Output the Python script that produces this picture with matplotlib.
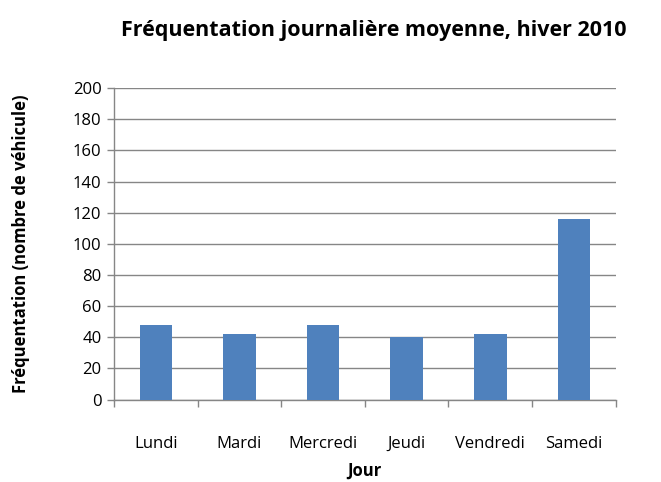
import matplotlib.pyplot as plt

plt.rcParams["font.family"] = ["Open Sans", "DejaVu Sans"]

jours = ["Lundi", "Mardi", "Mercredi", "Jeudi", "Vendredi", "Samedi"]
frequentation = [48, 42, 48, 40, 42, 116]

fig = plt.figure(figsize=(6.61, 4.82), dpi=100)
ax = fig.add_axes([0.1725, 0.171, 0.759, 0.646])

x = range(len(jours))
ax.bar(x, frequentation, width=0.39, color="#4F81BD", zorder=3)

ax.set_xlim(-0.5, len(jours) - 0.5)
ax.set_ylim(0, 200)
ax.set_yticks(range(0, 201, 20))
ax.set_xticks(list(x))
ax.set_xticklabels(jours, fontsize=12)
ax.tick_params(axis="y", labelsize=12, length=5, color="#868686", width=1, pad=4)
ax.tick_params(axis="x", length=0, pad=26)
# tick marks at category boundaries
ax.set_xticks([i - 0.5 for i in range(len(jours) + 1)], minor=True)
ax.tick_params(axis="x", which="minor", length=5, color="#868686", width=1)

ax.grid(axis="y", color="#868686", lw=1, zorder=0)
for s in ("top", "right"):
    ax.spines[s].set_visible(False)
for s in ("left", "bottom"):
    ax.spines[s].set_color("#868686")
    ax.spines[s].set_linewidth(1)

ax.set_xlabel("Jour", fontsize=12, fontweight="bold", va="center")
ax.xaxis.set_label_coords(0.5, -0.228)
ax.set_ylabel("Fréquentation (nombre de véhicule)", fontsize=12, fontweight="bold")
ax.yaxis.set_label_coords(-0.168, 0.5)
fig.text(0.566, 0.937, "Fréquentation journalière moyenne, hiver 2010",
         ha="center", va="center", fontsize=15.5, fontweight="bold")

fig.savefig("out.png", dpi=100)
